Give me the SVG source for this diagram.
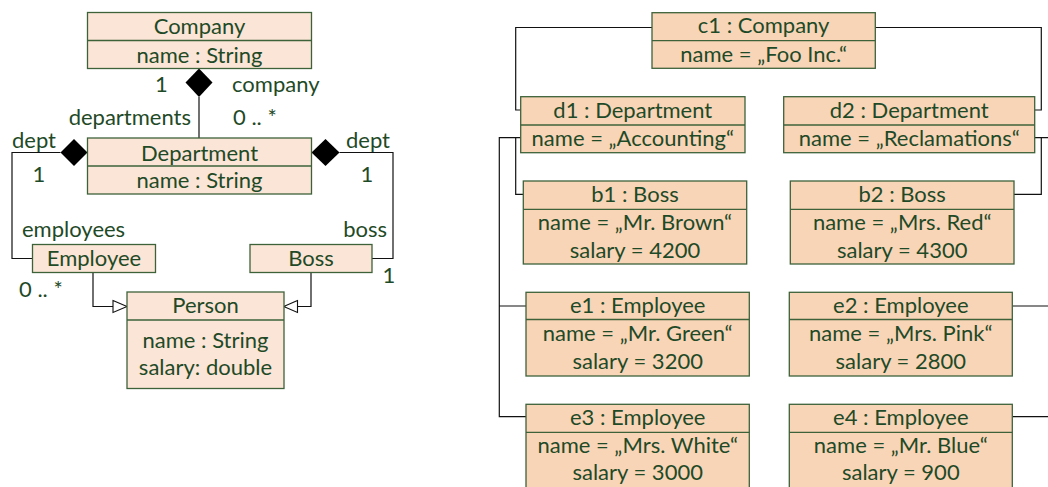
<svg xmlns="http://www.w3.org/2000/svg" width="1048" height="487" viewBox="0 0 1048 487">
<style>
text{font-family:Lato,"Open Sans","Liberation Sans",sans-serif;font-size:22px;fill:#1f4a27;}
.c{text-anchor:middle;}
.l{fill:#fbe5d6;stroke:#3d623a;stroke-width:1.3;}
.r{fill:#f9d5b8;stroke:#3d623a;stroke-width:1.3;}
.d{stroke:#3d623a;stroke-width:1.3;fill:none;}
.w{fill:none;stroke:#111;stroke-width:1.2;}
.dia{fill:#000;stroke:none;}
.tri{fill:#fff;stroke:#111;stroke-width:1.1;}
</style>
<rect width="1048" height="487" fill="#fff"/>
<g id="connectors">
<path class="w" d="M199,97 V138"/>
<polygon class="dia" points="199,68.5 212.5,82.5 199,97 185.5,82.5"/>
<path class="w" d="M60.5,152.5 H12 V258.5 H32.5"/>
<polygon class="dia" points="87.5,152.5 74,139 60.5,152.5 74,166"/>
<path class="w" d="M339.5,152.5 H393 V258.5 H372"/>
<polygon class="dia" points="311.5,152.5 325.5,139 339.5,152.5 325.5,166"/>
<path class="w" d="M93,272.5 V306.5 H113"/>
<polygon class="tri" points="113,300.5 127,306.5 113,312.5"/>
<path class="w" d="M311,272.5 V306.5 H297.5"/>
<polygon class="tri" points="297.5,300.5 283.7,306.5 297.5,312.5"/>
<path class="w" d="M652,27.5 H515.7 V110 H520.7"/>
<path class="w" d="M875.3,27.5 H1041.3 V110 H1034.7"/>
<path class="w" d="M520.7,137.7 H499.3 V416.7 H526 M499.3,306 H526"/>
<path class="w" d="M515.7,137.7 V194.3 H523.3"/>
<path class="w" d="M1034.7,137.7 H1048 M1041.3,137.7 V194.3 H1014"/>
<path class="w" d="M1012.3,306 H1048 M1012.3,416.7 H1048"/>
</g>
<g id="labels">
<text x="161.5" y="91.5" class="c">1</text>
<text x="232" y="91.5">company</text>
<text x="191" y="125" text-anchor="end">departments</text>
<text x="233" y="125">0 .. *</text>
<text x="12" y="148">dept</text>
<text x="39" y="181.5" class="c">1</text>
<text x="390" y="148" text-anchor="end">dept</text>
<text x="367" y="181.5" class="c">1</text>
<text x="22" y="236.5">employees</text>
<text x="387" y="236.5" text-anchor="end">boss</text>
<text x="389" y="283" class="c">1</text>
<text x="19" y="297">0 .. *</text>
</g>
<g id="Company">
<rect class="l" x="87.5" y="12.5" width="224" height="56"/>
<path class="d" d="M87.5,40.5 H311.5"/>
<text x="199.5" y="34" class="c">Company</text>
<text x="199.5" y="62.5" class="c">name : String</text>
</g>
<g id="Department">
<rect class="l" x="87.5" y="138" width="224" height="56"/>
<path class="d" d="M87.5,166 H311.5"/>
<text x="199.5" y="160.5" class="c">Department</text>
<text x="199.5" y="188" class="c">name : String</text>
</g>
<g id="Employee">
<rect class="l" x="32.5" y="244.5" width="123" height="28"/>
<text x="94" y="266" class="c">Employee</text>
</g>
<g id="Boss">
<rect class="l" x="250" y="244.5" width="122" height="28"/>
<text x="311" y="266" class="c">Boss</text>
</g>
<g id="Person">
<rect class="l" x="127" y="292" width="157" height="96.5"/>
<path class="d" d="M127,320 H284"/>
<text x="205.5" y="313.3" class="c">Person</text>
<text x="205.5" y="347.5" class="c">name : String</text>
<text x="205.5" y="375" class="c">salary: double</text>
</g>
<g id="c1">
<rect class="r" x="652" y="12.7" width="223.3" height="55.6"/>
<path class="d" d="M652,40.7 H875.3"/>
<text x="763.6" y="33.3" class="c">c1 : Company</text>
<text x="763.6" y="61.7" class="c">name = „Foo Inc.“</text>
</g>
<g id="d1">
<rect class="r" x="520.7" y="96.7" width="224.3" height="56"/>
<path class="d" d="M520.7,125 H745"/>
<text x="632.8" y="118.3" class="c">d1 : Department</text>
<text x="632.8" y="146" class="c">name = „Accounting“</text>
</g>
<g id="d2">
<rect class="r" x="783.7" y="96.7" width="251" height="56"/>
<path class="d" d="M783.7,125 H1034.7"/>
<text x="909.2" y="118.3" class="c">d2 : Department</text>
<text x="909.2" y="146" class="c">name = „Reclamations“</text>
</g>
<g id="b1">
<rect class="r" x="523.3" y="181" width="223.4" height="83"/>
<path class="d" d="M523.3,209.3 H746.7"/>
<text x="635" y="201.7" class="c">b1 : Boss</text>
<text x="635" y="230" class="c">name = „Mr. Brown“</text>
<text x="635" y="257.7" class="c">salary = 4200</text>
</g>
<g id="b2">
<rect class="r" x="790.3" y="181" width="223.7" height="83"/>
<path class="d" d="M790.3,209.3 H1014"/>
<text x="902.2" y="201.7" class="c">b2 : Boss</text>
<text x="902.2" y="230" class="c">name = „Mrs. Red“</text>
<text x="902.2" y="257.7" class="c">salary = 4300</text>
</g>
<g id="e1">
<rect class="r" x="526" y="292.3" width="223.3" height="83.7"/>
<path class="d" d="M526,319.5 H749.3"/>
<text x="637.7" y="313.3" class="c">e1 : Employee</text>
<text x="637.7" y="341" class="c">name = „Mr. Green“</text>
<text x="637.7" y="369.3" class="c">salary = 3200</text>
</g>
<g id="e2">
<rect class="r" x="789.3" y="292.3" width="223" height="83.7"/>
<path class="d" d="M789.3,319.5 H1012.3"/>
<text x="900.8" y="313.3" class="c">e2 : Employee</text>
<text x="900.8" y="341" class="c">name = „Mrs. Pink“</text>
<text x="900.8" y="369.3" class="c">salary = 2800</text>
</g>
<g id="e3">
<rect class="r" x="526" y="404.3" width="223.3" height="100"/>
<path class="d" d="M526,432.3 H749.3"/>
<text x="637.7" y="425" class="c">e3 : Employee</text>
<text x="637.7" y="453.3" class="c">name = „Mrs. White“</text>
<text x="637.7" y="480" class="c">salary = 3000</text>
</g>
<g id="e4">
<rect class="r" x="789.3" y="404.3" width="223" height="100"/>
<path class="d" d="M789.3,432.3 H1012.3"/>
<text x="900.8" y="425" class="c">e4 : Employee</text>
<text x="900.8" y="453.3" class="c">name = „Mr. Blue“</text>
<text x="900.8" y="480" class="c">salary = 900</text>
</g>
</svg>
